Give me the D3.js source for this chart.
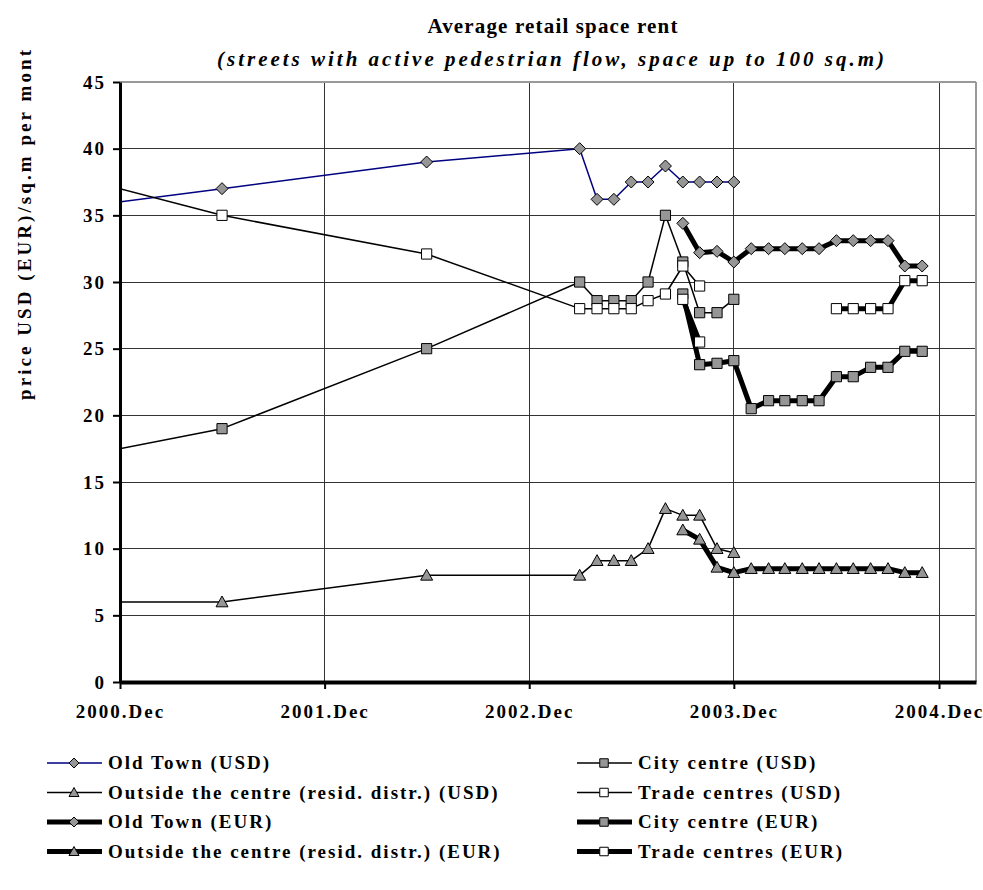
<!DOCTYPE html>
<html>
<head>
<meta charset="utf-8">
<script src="https://cdn.jsdelivr.net/npm/d3@7"></script>
<style>
body { margin: 0; background: #fff; }
text { font-family: "Liberation Serif", "Times New Roman", serif; font-weight: bold; fill: #000; }
</style>
</head>
<body>
<div id="chart"></div>
<script>
// months of the observations (first one lies left of the axis and is clipped)
var months = ["2000-06", "2001-06", "2002-06", "2003-03", "2003-04", "2003-05", "2003-06", "2003-07",
    "2003-08", "2003-09", "2003-10", "2003-11", "2003-12", "2004-01", "2004-02", "2004-03",
    "2004-04", "2004-05", "2004-06", "2004-07", "2004-08", "2004-09", "2004-10", "2004-11"];

var oldTownUSD = [35, 37, 39, 40, 36.2, 36.2, 37.5, 37.5, 38.7, 37.5, 37.5, 37.5, 37.5,
    null, null, null, null, null, null, null, null, null, null, null];
var cityUSD = [16, 19, 25, 30, 28.6, 28.6, 28.6, 30, 35, 31.5, 27.7, 27.7, 28.7,
    null, null, null, null, null, null, null, null, null, null, null];
var outsideUSD = [6, 6, 8, 8, 9.1, 9.1, 9.1, 10, 13, 12.5, 12.5, 10, 9.7,
    null, null, null, null, null, null, null, null, null, null, null];
var tradeUSD = [39, 35, 32.1, 28, 28, 28, 28, 28.6, 29.1, 31.2, 29.7,
    null, null, null, null, null, null, null, null, null, null, null, null, null];
var oldTownEUR = [null, null, null, null, null, null, null, null, null,
    34.4, 32.2, 32.3, 31.5, 32.5, 32.5, 32.5, 32.5, 32.5, 33.1, 33.1, 33.1, 33.1, 31.2, 31.2];
var cityEUR = [null, null, null, null, null, null, null, null, null,
    29.1, 23.8, 23.9, 24.1, 20.5, 21.1, 21.1, 21.1, 21.1, 22.9, 22.9, 23.6, 23.6, 24.8, 24.8];
var outsideEUR = [null, null, null, null, null, null, null, null, null,
    11.4, 10.7, 8.6, 8.2, 8.5, 8.5, 8.5, 8.5, 8.5, 8.5, 8.5, 8.5, 8.5, 8.2, 8.2];
var tradeEUR = [null, null, null, null, null, null, null, null, null,
    28.7, 25.5, null, null, null, null, null, null, null, 28, 28, 28, 28, 30.1, 30.1];

var seriesNames = ["Old Town (USD)", "City centre (USD)", "Outside the centre (resid. distr.) (USD)",
    "Trade centres (USD)", "Old Town (EUR)", "City centre (EUR)",
    "Outside the centre (resid. distr.) (EUR)", "Trade centres (EUR)"];

var xTicks = ["2000-12", "2001-12", "2002-12", "2003-12", "2004-12"];
var yTicks = [0, 5, 10, 15, 20, 25, 30, 35, 40, 45];

var W = 983, H = 890;
var plotLeft = 120, plotRight = 976, plotTop = 82, plotBottom = 682;
var parseMonth = d3.timeParse("%Y-%m");

var svg = d3.select("#chart")
    .append("svg")
    .attr("width", W)
    .attr("height", H);

var x = d3.scaleTime()
    .domain([parseMonth("2000-12"), new Date(2005, 1, 5)])
    .range([plotLeft, plotRight]);
var y = d3.scaleLinear()
    .domain([0, 45])
    .range([plotBottom, plotTop]);

// marker shapes
function markerPath(type, s) {
    if (type == "diamond") return "M0," + (-s) + "L" + s + ",0L0," + s + "L" + (-s) + ",0Z";
    if (type == "square") return "M" + (-s * 0.85) + "," + (-s * 0.85) + "h" + (s * 1.7) + "v" + (s * 1.7) + "h" + (-s * 1.7) + "Z";
    return "M0," + (-s) + "L" + s + "," + (s * 0.8) + "L" + (-s) + "," + (s * 0.8) + "Z";
}

var styles = [
    {color: "#000080", width: 1.5, marker: "diamond", fill: "#969696"},
    {color: "#000", width: 1.5, marker: "square", fill: "#969696"},
    {color: "#000", width: 1.5, marker: "triangle", fill: "#969696"},
    {color: "#000", width: 1.5, marker: "square", fill: "#fff"},
    {color: "#000", width: 5, marker: "diamond", fill: "#969696"},
    {color: "#000", width: 5, marker: "square", fill: "#969696"},
    {color: "#000", width: 5, marker: "triangle", fill: "#969696"},
    {color: "#000", width: 5, marker: "square", fill: "#fff"}
];
var allValues = [oldTownUSD, cityUSD, outsideUSD, tradeUSD, oldTownEUR, cityEUR, outsideEUR, tradeEUR];

var series = seriesNames.map(function(name, i) {
    return {
        name: name,
        style: styles[i],
        points: months.map(function(m, j) { return {date: parseMonth(m), v: allValues[i][j]}; })
    };
});

// gridlines
var grid = svg.append("g").attr("shape-rendering", "crispEdges");
grid.selectAll(".hgrid")
    .data(yTicks.filter(function(d) { return d > 0 && d < 45; }))
    .enter().append("line")
    .attr("x1", plotLeft).attr("x2", plotRight)
    .attr("y1", function(d) { return y(d); })
    .attr("y2", function(d) { return y(d); })
    .attr("stroke", "#333")
    .attr("stroke-width", 1);
grid.selectAll(".vgrid")
    .data(xTicks.slice(1))
    .enter().append("line")
    .attr("x1", function(d) { return x(parseMonth(d)); })
    .attr("x2", function(d) { return x(parseMonth(d)); })
    .attr("y1", plotTop).attr("y2", plotBottom)
    .attr("stroke", "#333")
    .attr("stroke-width", 1);
// plot border top / right
grid.append("line").attr("x1", plotLeft).attr("x2", plotRight).attr("y1", plotTop).attr("y2", plotTop)
    .attr("stroke", "#999").attr("stroke-width", 2);
grid.append("line").attr("x1", plotRight).attr("x2", plotRight).attr("y1", plotTop).attr("y2", plotBottom)
    .attr("stroke", "#999").attr("stroke-width", 2);

// axes
var yAxis = svg.append("g")
    .attr("transform", "translate(" + plotLeft + ",0)")
    .call(d3.axisLeft(y).tickValues(yTicks).tickSize(7).tickSizeOuter(0).tickPadding(7));
yAxis.select(".domain").attr("stroke-width", 3);
yAxis.selectAll(".tick line").attr("stroke-width", 2);
yAxis.selectAll("text")
    .style("font-size", "19px")
    .style("letter-spacing", "2px")
    .attr("fill", "#000");

var xAxis = svg.append("g")
    .attr("transform", "translate(0," + plotBottom + ")")
    .call(d3.axisBottom(x)
        .tickValues(xTicks.map(parseMonth))
        .tickFormat(d3.timeFormat("%Y.%b"))
        .tickSize(7).tickSizeOuter(0).tickPadding(16));
xAxis.select(".domain").attr("stroke-width", 4);
xAxis.selectAll(".tick line").attr("stroke-width", 2);
xAxis.selectAll("text")
    .style("font-size", "19px")
    .style("letter-spacing", "2px")
    .attr("fill", "#000");

// clip for the data
svg.append("clipPath").attr("id", "clip")
    .append("rect").attr("x", plotLeft + 1).attr("y", 0).attr("width", plotRight - plotLeft).attr("height", H);

var line = d3.line()
    .defined(function(d) { return d.v != null; })
    .x(function(d) { return x(d.date); })
    .y(function(d) { return y(d.v); });

var plot = svg.append("g").attr("clip-path", "url(#clip)");
series.forEach(function(s) {
    var g = plot.append("g");
    g.append("path")
        .datum(s.points)
        .attr("d", line)
        .attr("fill", "none")
        .attr("stroke", s.style.color)
        .attr("stroke-width", s.style.width)
        .attr("stroke-linejoin", "round");
    g.selectAll("path.marker")
        .data(s.points.filter(function(d) { return d.v != null; }))
        .enter().append("path")
        .attr("class", "marker")
        .attr("transform", function(d) { return "translate(" + x(d.date) + "," + y(d.v) + ")"; })
        .attr("d", markerPath(s.style.marker, 6))
        .attr("fill", s.style.fill)
        .attr("stroke", "#000")
        .attr("stroke-width", 1);
});

// titles
function fitWidth(sel, target) {
    var t = sel.node();
    var n = t.textContent.length;
    var w = t.getComputedTextLength();
    sel.style("letter-spacing", ((target - w) / (n - 1)) + "px");
}
var title = svg.append("text")
    .attr("x", 553).attr("y", 33)
    .attr("text-anchor", "middle")
    .style("font-size", "21px")
    .text("Average retail space rent");
fitWidth(title, 250);
var subtitle = svg.append("text")
    .attr("x", 552).attr("y", 66)
    .attr("text-anchor", "middle")
    .style("font-size", "21px")
    .style("font-style", "italic")
    .text("(streets with active pedestrian flow, space up to 100 sq.m)");
fitWidth(subtitle, 667);
var yTitle = svg.append("text")
    .attr("transform", "translate(31,400) rotate(-90)")
    .style("font-size", "19px")
    .text("price USD (EUR)/sq.m per mont");
fitWidth(yTitle, 350);

// legend
var legendX = [47, 577];
var legend = svg.append("g");
series.forEach(function(s, i) {
    var lx = legendX[i % 2];
    var ly = 763 + Math.floor(i / 2) * 29.5;
    var item = legend.append("g").attr("transform", "translate(" + lx + "," + ly + ")");
    item.append("line")
        .attr("x1", 0).attr("x2", 55).attr("y1", 0).attr("y2", 0)
        .attr("stroke", s.style.color)
        .attr("stroke-width", s.style.width);
    item.append("path")
        .attr("transform", "translate(27,0)")
        .attr("d", markerPath(s.style.marker, 5))
        .attr("fill", s.style.fill)
        .attr("stroke", "#000");
    item.append("text")
        .attr("x", 61).attr("y", 6)
        .style("font-size", "19px")
        .style("letter-spacing", "2px")
        .text(s.name);
});
</script>
</body>
</html>
